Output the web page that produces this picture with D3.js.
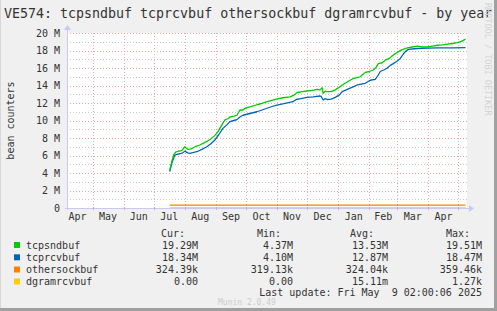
<!DOCTYPE html>
<html><head><meta charset="utf-8">
<script src="https://cdn.jsdelivr.net/npm/d3@7"></script>
<style>
html,body{margin:0;padding:0;background:#f0f0f0;}
svg{display:block;}
text{font-family:"DejaVu Sans Mono",monospace;white-space:pre;}
</style></head>
<body>
<svg id="chart" width="497" height="311"></svg>
<script>
// ---- data ----
const title = "VE574: tcpsndbuf tcprcvbuf othersockbuf dgramrcvbuf - by year";
const yLabel = "bean counters";
const seriesNames = ["tcpsndbuf","tcprcvbuf","othersockbuf","dgramrcvbuf"];
const seriesColors = ["#00cc00","#0066b3","#ff8000","#ffcc00"];
const curVals = ["19.29M","18.34M","324.39k","0.00"];
const minVals = ["4.37M","4.10M","319.13k","0.00"];
const avgVals = ["13.53M","12.87M","324.04k","15.11m"];
const maxVals = ["19.51M","18.47M","359.46k","1.27k"];
const yTicks = [0,2,4,6,8,10,12,14,16,18,20];
const lastUpdate = "Last update: Fri May  9 02:00:06 2025";

// values in millions
const tcpsndbuf = [
 ["2024-07-17",4.34],["2024-07-19",5.3],["2024-07-21",6.1],["2024-07-23",6.4],["2024-07-26",6.5],["2024-07-29",6.55],
 ["2024-08-01",7.0],["2024-08-04",6.7],["2024-08-07",6.75],["2024-08-09",6.85],["2024-08-12",7.05],["2024-08-16",7.2],
 ["2024-08-21",7.5],["2024-08-26",7.8],["2024-08-31",8.3],["2024-09-03",8.7],["2024-09-05",9.1],["2024-09-08",9.7],
 ["2024-09-10",10.06],["2024-09-13",10.2],["2024-09-15",10.4],["2024-09-19",10.5],["2024-09-22",10.6],["2024-09-25",11.2],
 ["2024-09-28",11.2],["2024-09-30",11.4],["2024-10-05",11.55],["2024-10-12",11.8],["2024-10-17",11.95],["2024-10-22",12.15],
 ["2024-10-27",12.3],["2024-11-01",12.46],["2024-11-07",12.6],["2024-11-14",12.7],["2024-11-18",12.9],["2024-11-21",13.2],
 ["2024-11-26",13.3],["2024-12-01",13.37],["2024-12-06",13.45],["2024-12-11",13.56],["2024-12-14",13.5],["2024-12-16",13.75],
 ["2024-12-17",13.1],["2024-12-19",13.35],["2024-12-21",13.3],["2024-12-25",13.3],["2024-12-29",13.5],["2025-01-03",13.87],
 ["2025-01-07",14.2],["2025-01-10",14.4],["2025-01-13",14.6],["2025-01-16",14.8],["2025-01-20",14.9],["2025-01-23",15.0],
 ["2025-01-28",15.5],["2025-02-01",15.6],["2025-02-05",15.77],["2025-02-08",16.1],["2025-02-10",16.5],["2025-02-14",16.6],
 ["2025-02-17",16.9],["2025-02-21",17.1],["2025-02-24",17.4],["2025-03-02",17.87],["2025-03-06",18.1],["2025-03-11",18.3],
 ["2025-03-16",18.4],["2025-03-21",18.5],["2025-03-26",18.4],["2025-03-31",18.4],["2025-04-05",18.5],["2025-04-10",18.6],
 ["2025-04-15",18.65],["2025-04-20",18.74],["2025-04-25",18.8],["2025-04-30",18.9],["2025-05-04",19.05],["2025-05-08",19.3]
];
const tcprcvbuf = [
 ["2024-07-17",4.15],["2024-07-19",5.1],["2024-07-22",6.05],["2024-07-25",6.15],["2024-07-27",6.2],["2024-07-30",6.3],
 ["2024-08-01",6.5],["2024-08-04",6.3],["2024-08-06",6.25],["2024-08-10",6.35],["2024-08-13",6.43],["2024-08-18",6.7],
 ["2024-08-23",7.0],["2024-08-27",7.35],["2024-08-31",7.77],["2024-09-04",8.4],["2024-09-08",9.1],["2024-09-12",9.5],
 ["2024-09-15",9.87],["2024-09-19",10.0],["2024-09-22",10.1],["2024-09-25",10.4],["2024-09-28",10.6],["2024-10-05",10.8],
 ["2024-10-12",11.0],["2024-10-17",11.2],["2024-10-22",11.4],["2024-10-27",11.6],["2024-11-01",11.77],["2024-11-09",11.95],
 ["2024-11-17",12.15],["2024-11-20",12.4],["2024-11-25",12.5],["2024-12-01",12.65],["2024-12-07",12.7],["2024-12-14",12.8],
 ["2024-12-15",12.75],["2024-12-17",12.34],["2024-12-19",12.5],["2024-12-21",12.4],["2024-12-25",12.45],["2024-12-29",12.65],
 ["2025-01-02",12.9],["2025-01-05",13.3],["2025-01-09",13.5],["2025-01-13",13.7],["2025-01-17",13.9],["2025-01-20",14.06],
 ["2025-01-24",14.15],["2025-01-28",14.25],["2025-02-02",14.6],["2025-02-07",14.7],["2025-02-10",15.2],["2025-02-12",15.6],
 ["2025-02-16",15.8],["2025-02-19",16.0],["2025-02-22",16.3],["2025-02-25",16.5],["2025-03-01",16.8],["2025-03-04",17.1],
 ["2025-03-07",17.6],["2025-03-09",17.87],["2025-03-12",18.13],["2025-03-18",18.2],["2025-03-24",18.25],["2025-04-10",18.3],
 ["2025-04-25",18.3],["2025-05-08",18.34]
];
const othersockbuf = [["2024-07-17",0.33],["2024-09-01",0.324],["2025-01-01",0.324],["2025-05-08",0.324]];
const dgramrcvbuf = [["2024-07-17",0],["2025-05-08",0]];
const seriesData = [tcpsndbuf, tcprcvbuf, othersockbuf, dgramrcvbuf];

// ---- layout ----
const svg = d3.select("#chart");
const W = 497, H = 311;
const L = 67, R = 467, T = 33, B = 208;
const parse = d3.utcParse("%Y-%m-%d");
const tStart = new Date(Date.UTC(2024,3,5,12)), tEnd = new Date(Date.UTC(2025,4,9,12));
const x = d3.scaleTime().domain([tStart, tEnd]).range([L, R]);
const y = d3.scaleLinear().domain([0, 20]).range([B, T]);

// background & border
svg.append("rect").attr("x",0).attr("y",0).attr("width",W).attr("height",H).attr("fill","#f0f0f0");
svg.append("rect").attr("x",W-3).attr("y",0).attr("width",3).attr("height",H).attr("fill","#a0a0a0");
svg.append("rect").attr("x",0).attr("y",H-3).attr("width",W).attr("height",3).attr("fill","#a0a0a0");
svg.append("rect").attr("x",0).attr("y",0).attr("width",1).attr("height",H-3).attr("fill","#d8d8d8");
svg.append("rect").attr("x",L).attr("y",T).attr("width",R-L).attr("height",B-T).attr("fill","#ffffff");

// minor horizontal grid
const g = svg.append("g").attr("shape-rendering","crispEdges");
d3.range(1,20,2).forEach(v=>{
  g.append("line").attr("x1",L).attr("x2",R).attr("y1",Math.round(y(v))+0.5).attr("y2",Math.round(y(v))+0.5)
   .attr("stroke","#c8c8c8").attr("stroke-dasharray","1,2");
});
// major horizontal grid
yTicks.filter(v=>v>0).forEach(v=>{
  g.append("line").attr("x1",L).attr("x2",R).attr("y1",Math.round(y(v))+0.5).attr("y2",Math.round(y(v))+0.5)
   .attr("stroke","#f0a8a8").attr("stroke-dasharray","1,2");
});
// month grid
const months = d3.utcMonth.range(d3.utcMonth.ceil(tStart), tEnd);
months.forEach(m=>{
  const xx = Math.round(x(m))+0.5;
  g.append("line").attr("x1",xx).attr("x2",xx).attr("y1",T).attr("y2",B)
   .attr("stroke","#f0a8a8").attr("stroke-dasharray","1,2");
});

// series lines
const line = d3.line().x(d=>x(parse(d[0]))).y(d=>y(d[1]));
[2,3,1,0].forEach(i=>{
  svg.append("path").attr("d", line(seriesData[i])).attr("fill","none")
   .attr("stroke", seriesColors[i]).attr("stroke-width", i===3?1.5:1.3).attr("stroke-linejoin","round");
});

// axes
const axisColor = "#c8c8f4";
svg.append("line").attr("x1",L-2).attr("x2",R+3).attr("y1",B+0.5).attr("y2",B+0.5).attr("stroke",axisColor).attr("shape-rendering","crispEdges");
svg.append("line").attr("x1",L+0.5).attr("x2",L+0.5).attr("y1",B+2).attr("y2",T-5).attr("stroke",axisColor).attr("shape-rendering","crispEdges");
svg.append("path").attr("d",`M${R+2},${B-3} L${R+7},${B+0.5} L${R+2},${B+4} Z`).attr("fill",axisColor);
svg.append("path").attr("d",`M${L-3},${T-3} L${L+0.5},${T-8} L${L+4},${T-3} Z`).attr("fill",axisColor);
// x tick marks
months.forEach(m=>{
  const xx = Math.round(x(m))+0.5;
  svg.append("line").attr("x1",xx).attr("x2",xx).attr("y1",B-1).attr("y2",B+2).attr("stroke","#f0a8a8");
});

const txt = "#333333";
// y tick labels
yTicks.forEach(v=>{
  svg.append("text").attr("x",60).attr("y",y(v)).attr("dy","0.35em").attr("text-anchor","end")
   .attr("font-size","10px").attr("fill",txt).text(v===0?"0":v+" M");
});
// month labels (centered in month)
const fmt = d3.utcFormat("%b");
d3.utcMonth.range(d3.utcMonth.floor(tStart), tEnd).forEach(m=>{
  const mid = new Date((+m + +d3.utcMonth.offset(m,1))/2);
  if (mid < tStart || mid > tEnd) return;
  svg.append("text").attr("x",x(mid)).attr("y",220).attr("text-anchor","middle")
   .attr("font-size","10px").attr("fill",txt).text(fmt(m));
});

// title
svg.append("text").attr("x",4).attr("y",18).attr("font-size","13.3px").attr("fill",txt).text(title);
// y label
svg.append("text").attr("transform",`translate(14,${(T+B)/2}) rotate(-90)`).attr("text-anchor","middle")
  .attr("font-size","10px").attr("fill",txt).text(yLabel);
// watermark
svg.append("text").attr("transform",`translate(485,3) rotate(90)`).attr("font-size","8.5px")
  .attr("fill","#d4d4d4").text("RRDTOOL / TOBI OETIKER");

// legend
const rowY = [245,257.3,269.5,281.5];
const hdrY = 233.3;
[["Cur:",185],["Min:",281],["Avg:",374],["Max:",470]].forEach(h=>{
  svg.append("text").attr("x",h[1]).attr("y",hdrY).attr("dy","0.35em").attr("text-anchor","end")
   .attr("font-size","10px").attr("fill",txt).text(h[0]);
});
const cols = [[curVals,198],[minVals,293],[avgVals,388],[maxVals,482]];
seriesNames.forEach((n,i)=>{
  svg.append("rect").attr("x",14).attr("y",rowY[i]-3).attr("width",6).attr("height",6).attr("fill",seriesColors[i]);
  svg.append("text").attr("x",26).attr("y",rowY[i]).attr("dy","0.35em").attr("font-size","10px").attr("fill",txt).text(n);
  cols.forEach(c=>{
    svg.append("text").attr("x",c[1]).attr("y",rowY[i]).attr("dy","0.35em").attr("text-anchor","end")
     .attr("font-size","10px").attr("fill",txt).text(c[0][i]);
  });
});
svg.append("text").attr("x",482).attr("y",292.3).attr("dy","0.35em").attr("text-anchor","end")
  .attr("xml:space","preserve").attr("font-size","10px").attr("fill",txt).text(lastUpdate);
svg.append("text").attr("x",218).attr("y",302.6).attr("dy","0.35em").attr("font-size","8px")
  .attr("fill","#cccccc").text("Munin 2.0.49");
</script>
</body></html>
